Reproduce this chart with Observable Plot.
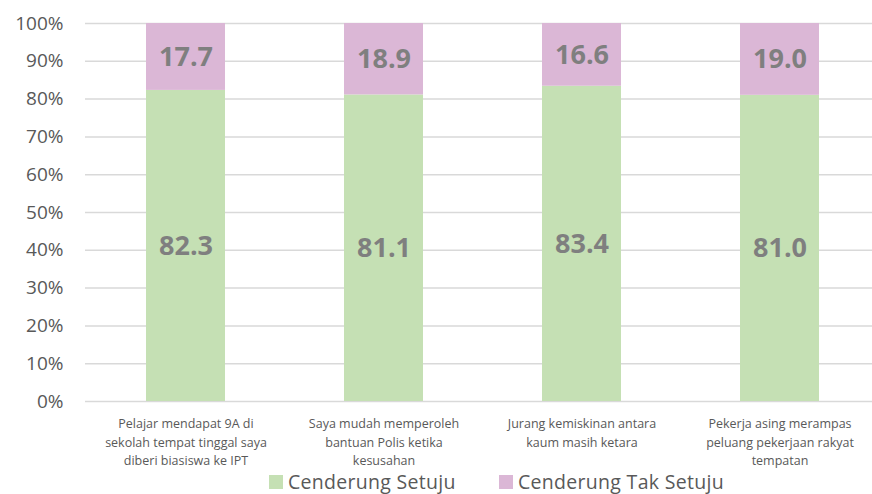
<!DOCTYPE html>
<html>
<head>
<meta charset="utf-8">
<script src="https://cdn.jsdelivr.net/npm/d3@7"></script>
<script src="https://cdn.jsdelivr.net/npm/@observablehq/plot@0.6"></script>
<style>
  html, body { margin: 0; padding: 0; background: #fff; }
  body { width: 872px; height: 494px; overflow: hidden; font-family: "Open Sans", sans-serif; }
  #legend { display: flex; align-items: center; height: 24px; padding-left: 269px; margin-top: 1px; }
  #legend .item { display: flex; align-items: center; width: 230px; }
  #legend .sw { width: 14px; height: 14px; margin-right: 5px; flex: none; }
  #legend .lbl { font-size: 19.5px; line-height: 1; color: #595959; white-space: nowrap; letter-spacing: 0.3px; }
</style>
</head>
<body>
<div id="chart"></div>
<div id="legend"></div>
<script>
const categories = [
  "Pelajar mendapat 9A di\nsekolah tempat tinggal saya\ndiberi biasiswa ke IPT",
  "Saya mudah memperoleh\nbantuan Polis ketika\nkesusahan",
  "Jurang kemiskinan antara\nkaum masih ketara",
  "Pekerja asing merampas\npeluang pekerjaan rakyat\ntempatan"
];
const seriesNames = ["Cenderung Setuju", "Cenderung Tak Setuju"];
const setuju = [82.3, 81.1, 83.4, 81.0];
const takSetuju = [17.7, 18.9, 16.6, 19.0];
const colors = ["#c5e0b4", "#dbb7d6"];
const yTicks = [0, 10, 20, 30, 40, 50, 60, 70, 80, 90, 100];

const data = [];
categories.forEach((c, i) => {
  data.push({cat: c, series: seriesNames[0], value: setuju[i]});
  data.push({cat: c, series: seriesNames[1], value: takSetuju[i]});
});

const plot = Plot.plot({
  width: 872,
  height: 469,
  marginLeft: 85,
  marginRight: 0,
  marginTop: 23,
  marginBottom: 68,
  style: {fontFamily: "'Open Sans', sans-serif", background: "#fff"},
  x: {domain: categories, range: [86, 880], paddingInner: 0.6, paddingOuter: 0.3, label: null},
  y: {domain: [0, 100], label: null},
  color: {domain: seriesNames, range: colors},
  marks: [
    Plot.ruleY(yTicks, {stroke: "#d9d9d9", strokeWidth: 1.5}),
    Plot.barY(data, {x: "cat", y: "value", fill: "series", order: seriesNames}),
    Plot.text(data, Plot.stackY({
      x: "cat", y: "value", z: "series", order: seriesNames,
      text: d => d.value.toFixed(1),
      fill: "#7f7f7f", fontWeight: "bold", fontSize: 27
    })),
    Plot.axisY({ticks: yTicks, tickSize: 0, tickPadding: 22, tickFormat: d => d + "%",
      fontSize: 19, fill: "#595959"}),
    Plot.axisX({tickSize: 0, tickPadding: 13, fontSize: 12.5, lineHeight: 1.5, fill: "#595959"})
  ]
});
document.getElementById("chart").appendChild(plot);

const legend = document.getElementById("legend");
seriesNames.forEach((s, i) => {
  const item = document.createElement("div");
  item.className = "item";
  const sw = document.createElement("span");
  sw.className = "sw";
  sw.style.background = colors[i];
  const lbl = document.createElement("span");
  lbl.className = "lbl";
  lbl.textContent = s;
  item.appendChild(sw);
  item.appendChild(lbl);
  legend.appendChild(item);
});
</script>
</body>
</html>
